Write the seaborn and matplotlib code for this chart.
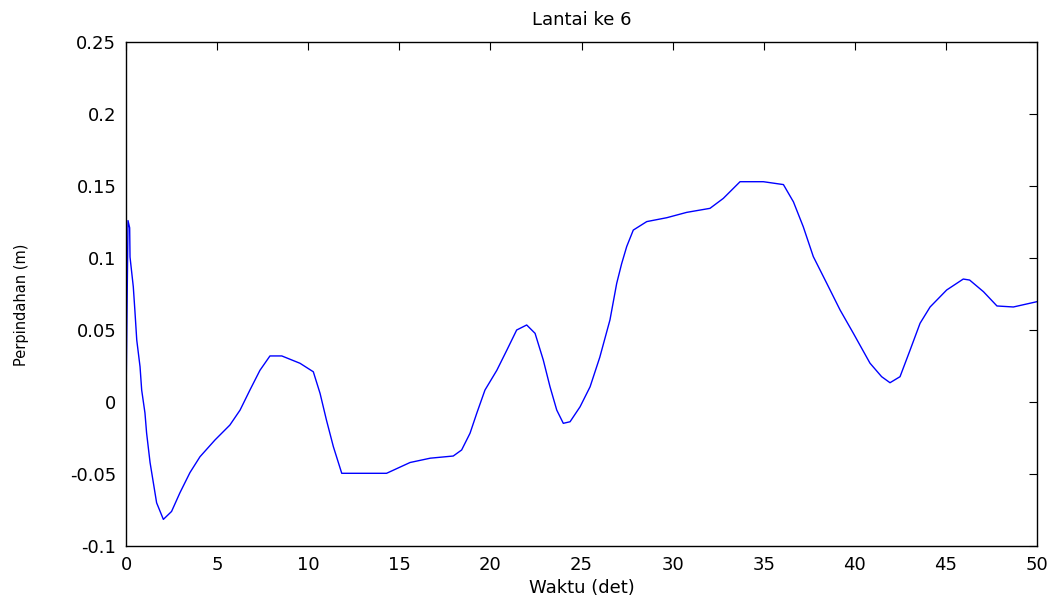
import numpy as np
import pandas as pd
import matplotlib
matplotlib.use("Agg")
import matplotlib.pyplot as plt
import seaborn as sns

# waktu (det) dan perpindahan (m)
waktu = [0.0, 0.11, 0.2, 0.22, 0.4, 0.49, 0.59, 0.77, 0.86, 1.04, 1.13, 1.32, 1.5, 1.68,
         2.05, 2.5, 2.96, 3.51, 4.06, 4.88, 5.7, 6.26, 6.8, 7.35, 7.9, 8.55, 9.55, 10.28,
         10.65, 11.0, 11.38, 11.84, 14.3, 15.59, 16.7, 17.96, 18.42, 18.88, 19.25, 19.7,
         20.35, 20.9, 21.44, 21.99, 22.45, 22.9, 23.27, 23.64, 24.0, 24.37, 24.92, 25.47,
         26.0, 26.56, 26.93, 27.2, 27.48, 27.84, 28.58, 29.68, 30.77, 32.05, 32.78, 33.7,
         34.98, 36.08, 36.63, 37.17, 37.72, 38.46, 39.19, 39.92, 40.83, 41.47, 41.93,
         42.48, 43.03, 43.58, 44.13, 45.04, 45.95, 46.3, 47.06, 47.8, 48.7, 50.0]
perpindahan = [0.0, 0.126, 0.121, 0.1007, 0.080, 0.063, 0.043, 0.0245, 0.0083, -0.0076,
               -0.0215, -0.042, -0.056, -0.070, -0.0815, -0.076, -0.063, -0.049, -0.038,
               -0.0264, -0.016, -0.0056, 0.0083, 0.022, 0.032, 0.032, 0.0269, 0.021, 0.006,
               -0.0125, -0.031, -0.0495, -0.0495, -0.042, -0.039, -0.0375, -0.0333, -0.0217,
               -0.0078, 0.0083, 0.022, 0.036, 0.05, 0.0535, 0.0477, 0.0292, 0.0106, -0.0056,
               -0.0148, -0.0137, -0.0033, 0.0106, 0.031, 0.057, 0.0824, 0.096, 0.108, 0.1194,
               0.1253, 0.128, 0.1317, 0.1345, 0.1414, 0.153, 0.153, 0.151, 0.139, 0.1217,
               0.101, 0.0824, 0.0639, 0.0477, 0.027, 0.0176, 0.0134, 0.0176, 0.036, 0.0547,
               0.066, 0.0778, 0.0854, 0.0847, 0.0766, 0.0667, 0.066, 0.0697]

df = pd.DataFrame({"waktu": waktu, "perpindahan": perpindahan})

sns.set_style("white")
plt.rcParams["font.family"] = ["DejaVu Sans"]
plt.rcParams["text.color"] = "black"
plt.rcParams["axes.labelcolor"] = "black"

fig = plt.figure(figsize=(10.58, 6.03), dpi=100)
ax = fig.add_axes([0.1191, 0.0945, 0.8611, 0.8358])

sns.lineplot(data=df, x="waktu", y="perpindahan", color="#0000ff", linewidth=1.0, ax=ax)

ax.set_xlim(0, 50)
ax.set_ylim(-0.1, 0.25)
ax.set_xticks(np.arange(0, 51, 5))
ax.set_yticks([-0.1, -0.05, 0, 0.05, 0.1, 0.15, 0.2, 0.25])
ax.set_yticklabels(["-0.1", "-0.05", "0", "0.05", "0.1", "0.15", "0.2", "0.25"])
ax.tick_params(direction="in", length=6, width=0.8, labelsize=13, pad=7,
               top=True, right=True, colors="black")
for s in ax.spines.values():
    s.set_visible(True)
    s.set_color("black")
    s.set_linewidth(1.0)

ax.set_title("Lantai ke 6", fontsize=13, pad=12, color="black")
ax.set_xlabel("Waktu (det)", fontsize=13, labelpad=4)
ax.set_ylabel("Perpindahan (m)", fontsize=10.5)
ax.yaxis.set_label_coords(-0.106, 0.478)

fig.savefig("out.png", dpi=100)
